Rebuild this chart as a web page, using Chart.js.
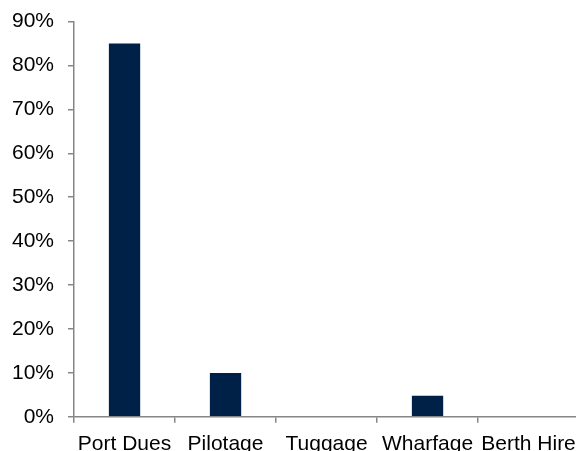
<!DOCTYPE html>
<html>
<head>
<meta charset="utf-8">
<script src="https://cdn.jsdelivr.net/npm/chart.js@4/dist/chart.umd.min.js"></script>
<style>
  html, body { margin: 0; padding: 0; background: #fff; overflow: hidden; }
  #wrap { position: relative; left: -14px; top: -5px; width: 599px; height: 475px; }
</style>
</head>
<body>
<div id="wrap"><canvas id="c"></canvas></div>
<script>
// Share of port charges by category (%)
const categories = ['Port Dues', 'Pilotage', 'Tuggage', 'Wharfage', 'Berth Hire'];
const shares = [85, 10, 0, 4.8, 0];
const yTicks = [0, 10, 20, 30, 40, 50, 60, 70, 80, 90];

const axisGrey = '#868686';
const labelFont = { family: 'Liberation Sans, Arial, sans-serif', size: 21 };

new Chart(document.getElementById('c'), {
  type: 'bar',
  data: {
    labels: categories,
    datasets: [{
      data: shares,
      backgroundColor: '#002147',
      borderWidth: 0,
      barPercentage: 0.31,
      categoryPercentage: 1.0
    }]
  },
  options: {
    responsive: true,
    maintainAspectRatio: false,
    animation: false,
    layout: { padding: { left: 12, top: 3, right: 2, bottom: 4 } },
    plugins: { legend: { display: false }, tooltip: { enabled: false } },
    scales: {
      x: {
        offset: true,
        grid: { offset: true, drawOnChartArea: false, drawTicks: true, tickLength: 6, color: axisGrey, lineWidth: 1.5 },
        border: { color: axisGrey, width: 1.5 },
        ticks: { color: '#000', padding: 9, maxRotation: 0, autoSkip: false, font: labelFont }
      },
      y: {
        min: yTicks[0],
        max: yTicks[yTicks.length - 1],
        afterBuildTicks: (axis) => { axis.ticks = yTicks.map(v => ({ value: v })); },
        grid: { drawOnChartArea: false, drawTicks: true, tickLength: 6, color: axisGrey, lineWidth: 1.5 },
        border: { color: axisGrey, width: 1.5 },
        ticks: { color: '#000', padding: 14, callback: (v) => v + '%', font: labelFont }
      }
    }
  }
});
</script>
</body>
</html>
